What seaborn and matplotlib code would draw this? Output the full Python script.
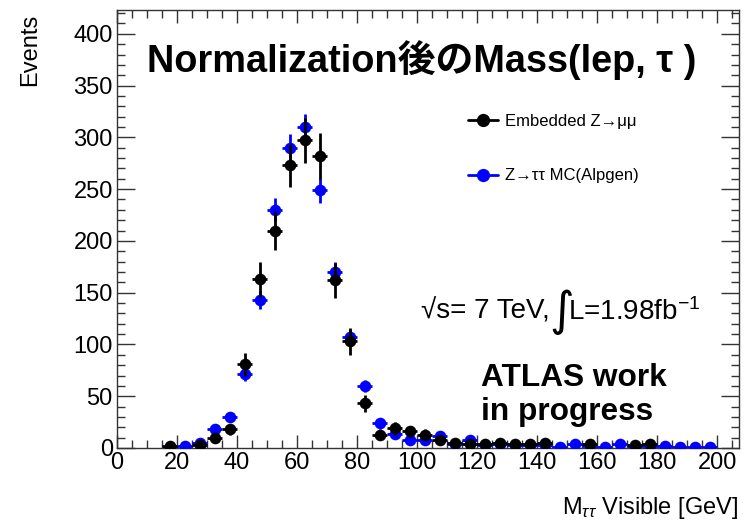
import numpy as np
import pandas as pd
import matplotlib
matplotlib.use("Agg")
import matplotlib.pyplot as plt
from matplotlib.lines import Line2D
import seaborn as sns

# Visible di-tau mass, 5 GeV bins
bin_centers = [17.5, 22.5, 27.5, 32.5, 37.5, 42.5, 47.5, 52.5, 57.5, 62.5,
               67.5, 72.5, 77.5, 82.5, 87.5, 92.5, 97.5, 102.5, 107.5, 112.5,
               117.5, 122.5, 127.5, 132.5, 137.5, 142.5, 147.5, 152.5, 157.5, 162.5,
               167.5, 172.5, 177.5, 182.5, 187.5, 192.5, 197.5]
bin_half_width = 2.5

# Embedded Z->mumu (empty bins are not drawn)
embedded_events = [2, np.nan, 3, 10, 18, 81, 163, 210, 273, 297,
                   282, 162, 103, 43, 13, 19, 16, 13, 8, 5,
                   4, 4, 5, 4, 4, 5, np.nan, np.nan, 4, np.nan,
                   np.nan, 3, 4, np.nan, np.nan, np.nan, np.nan]
embedded_err = [2, 0, 2, 4, 5, 11, 17, 19, 21, 22,
                22, 17, 13, 8, 5, 6, 5, 5, 4, 3,
                3, 3, 3, 3, 3, 3, 0, 0, 3, 0,
                0, 2, 3, 0, 0, 0, 0]

# Z->tautau MC (Alpgen)
mc_events = [1, 2, 5, 18, 30, 71, 143, 230, 290, 310,
             249, 170, 107, 60, 24, 14, 8, 8, 12, 4,
             8, 3, 4, 3, 3, 3, 1, 4, 2, 1,
             4, 1, 2, 2, 1, 1, 1]
mc_err = [1, 1, 2, 3, 4, 6, 9, 11, 13, 13,
          12, 10, 8, 6, 4, 3, 2, 2, 3, 2,
          2, 1, 2, 1, 1, 1, 1, 2, 1, 1,
          2, 1, 1, 1, 1, 1, 1]

x_ticks = [0, 20, 40, 60, 80, 100, 120, 140, 160, 180, 200]
y_ticks = [0, 50, 100, 150, 200, 250, 300, 350, 400]

df = pd.concat([
    pd.DataFrame({"mass": bin_centers, "events": embedded_events,
                  "err": embedded_err, "sample": "Embedded"}),
    pd.DataFrame({"mass": bin_centers, "events": mc_events,
                  "err": mc_err, "sample": "MC"}),
], ignore_index=True)

sns.set_theme(style="ticks")
plt.rcParams["font.family"] = ["Liberation Sans", "Noto Sans CJK JP", "DejaVu Sans"]
plt.rcParams["mathtext.fontset"] = "custom"
plt.rcParams["mathtext.rm"] = "Liberation Sans"
plt.rcParams["mathtext.it"] = "Liberation Sans:italic"
for key in ["text.color", "axes.labelcolor", "xtick.labelcolor", "ytick.labelcolor"]:
    plt.rcParams[key] = "black"

fig = plt.figure(figsize=(7.55, 5.22), dpi=100)
ax = fig.add_axes([117 / 755, 1 - 448 / 522, 622 / 755, 438 / 522])

colors = {"Embedded": "#000000", "MC": "#0000ff"}
for name in ["MC", "Embedded"]:
    d = df[(df["sample"] == name) & df["events"].notna()]
    ax.errorbar(d["mass"], d["events"], yerr=d["err"], xerr=bin_half_width,
                fmt="none", ecolor=colors[name], elinewidth=2, capsize=0,
                zorder=2 if name == "MC" else 4)
    sns.scatterplot(data=d, x="mass", y="events", color=colors[name], s=70,
                    marker="o", edgecolor=colors[name], linewidth=0, ax=ax,
                    zorder=3 if name == "MC" else 5, legend=False)

ax.set_xlim(0, 207.3)
ax.set_ylim(0, 423)
ax.set_xticks(x_ticks)
ax.set_yticks(y_ticks)
ax.set_xticks(np.arange(0, 207, 5), minor=True)
ax.set_yticks(np.arange(0, 423, 10), minor=True)
ax.tick_params(axis="both", which="both", direction="in", top=True, right=True,
               labelsize=17, color="#333333", width=1)
ax.tick_params(axis="y", which="major", length=13, pad=3)
ax.tick_params(axis="y", which="minor", length=6)
ax.tick_params(axis="x", which="major", length=9.5, pad=3)
ax.tick_params(axis="x", which="minor", length=5.5)
for s in ax.spines.values():
    s.set_color("#333333")
    s.set_linewidth(1)
ax.set_xlabel("")
ax.set_ylabel("")

fig.text(30 / 755, 1 - 14 / 522, "Events", rotation=90, ha="center", va="top",
         fontsize=17)
fig.text(738 / 755, 1 - 508 / 522, r"M$_{\tau\tau}$ Visible [GeV]", ha="right",
         va="center", fontsize=17)

fig.text(422 / 755, 1 - 60 / 522, "Normalization後のMass(lep, τ )",
         ha="center", va="center", fontsize=27.3, fontweight="bold")

# centre-of-mass energy and integrated luminosity
ax.text((421 - 117) / 622, (448 - 312) / 438, "√s= 7 TeV,",
        transform=ax.transAxes, fontsize=20, ha="left", va="center")
ax.text((549 - 117) / 622, (448 - 312) / 438, "∫",
        transform=ax.transAxes, fontsize=34, ha="left", va="center",
        family=["DejaVu Sans"])
ax.text((568 - 117) / 622, (448 - 312) / 438, r"L=1.98fb$^{\mathregular{-1}}$",
        transform=ax.transAxes, fontsize=20, ha="left", va="center")

ax.text((481 - 117) / 622, (448 - 395) / 438,
        "ATLAS work\nin progress", transform=ax.transAxes, fontsize=22.8,
        fontweight="bold", ha="left", va="center", linespacing=1.15)

handles = [
    Line2D([], [], color="#000000", lw=2, marker="o", markersize=8.5),
    Line2D([], [], color="#0000ff", lw=2, marker="o", markersize=8.5),
]
ax.legend(handles, ["Embedded Z→μμ", "Z→ττ MC(Alpgen)"], frameon=False,
          fontsize=12, loc="upper left",
          bbox_to_anchor=((468 - 117) / 622, (448 - 114) / 438),
          borderpad=0, borderaxespad=0, handlelength=1.8, handletextpad=0.4,
          labelspacing=2.36)

fig.savefig("out.png", dpi=100)
